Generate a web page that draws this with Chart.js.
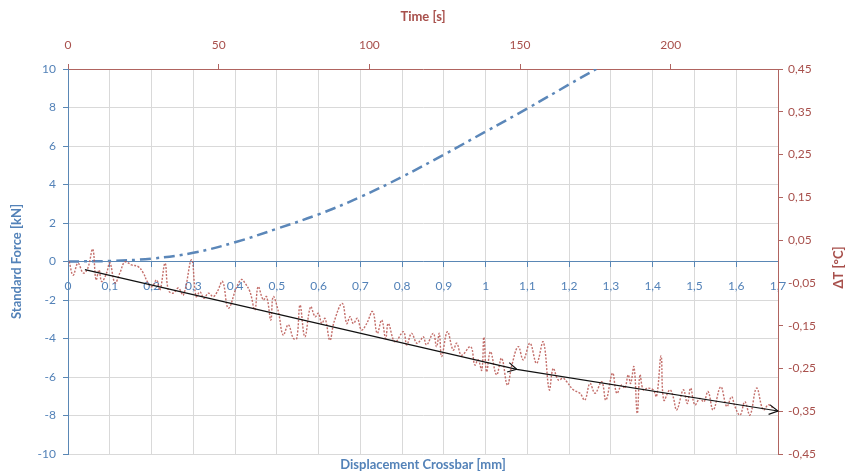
<!DOCTYPE html>
<html><head><meta charset="utf-8">
<script src="https://cdn.jsdelivr.net/npm/chart.js@4.4.1/dist/chart.umd.min.js"></script>
<style>html,body{margin:0;padding:0;background:#fff;}</style>
</head><body>
<canvas id="c" width="848" height="476"></canvas>
<script>
// ---- data ----
const displacementMm = [0, 0.1, 0.2, 0.3, 0.4, 0.5, 0.6, 0.7, 0.8, 0.9, 1.0, 1.1, 1.2, 1.265];
const forceKn        = [0, 0.03, 0.15, 0.45, 1.0, 1.7, 2.45, 3.35, 4.4, 5.55, 6.75, 7.95, 9.2, 10.0];

const timeS = [0.4,1.7,3.3,5.1,6.6,8.2,9.3,10.3,11.2,12.8,
13.9,15.6,17.3,18.9,21.1,23.3,25.0,26.3,27.8,29.4,
30.5,32.2,33.3,34.9,36.6,38.3,41.0,42.5,43.8,45.1,
46.6,48.2,49.5,51.3,53.2,56.0,57.6,58.7,60.4,62.0,
63.1,64.8,65.9,67.3,68.1,69.8,71.4,73.1,74.8,75.9,
77.0,78.6,80.5,82.0,83.1,84.2,85.3,86.9,88.3,91.0,
92.5,93.6,94.7,96.0,97.4,99.1,101.1,102.6,104.1,105.4,
106.3,108.5,111.3,112.4,114.0,115.7,116.8,117.9,119.0,121.2,
122.3,123.2,124.0,125.9,127.8,129.0,130.6,133.6,135.0,136.1,
137.3,138.0,138.9,140.2,142.2,143.9,145.8,147.3,149.4,151.1,
153.3,155.5,157.7,159.7,161.0,162.7,164.3,165.5,167.7,169.9,
171.5,173.2,174.9,177.1,178.5,180.7,182.1,183.7,184.8,185.9,
186.7,187.8,188.9,189.8,190.9,192.5,194.2,195.3,196.8,197.7,
199.7,200.8,202.0,204.2,205.5,206.6,208.0,209.7,211.0,212.4,
214.1,216.6,218.6,220.2,221.3,223.0,224.6,226.3,228.5,230.7,
232.4,234.0];
const deltaT = [0.000,-0.032,-0.004,-0.027,-0.015,0.029,-0.043,-0.020,-0.047,-0.027,
-0.003,-0.050,-0.025,-0.001,-0.008,-0.012,-0.027,-0.047,-0.059,-0.043,
-0.067,-0.004,-0.067,-0.074,-0.062,-0.078,0.004,-0.082,-0.071,-0.086,
-0.074,-0.082,-0.071,-0.047,-0.109,-0.059,-0.042,-0.050,-0.071,-0.113,
-0.059,-0.090,-0.082,-0.137,-0.082,-0.117,-0.172,-0.148,-0.180,-0.180,
-0.102,-0.176,-0.106,-0.129,-0.121,-0.145,-0.133,-0.184,-0.141,-0.098,
-0.145,-0.129,-0.145,-0.133,-0.160,-0.145,-0.117,-0.168,-0.137,-0.180,
-0.145,-0.188,-0.164,-0.195,-0.168,-0.191,-0.186,-0.176,-0.195,-0.168,
-0.199,-0.168,-0.222,-0.164,-0.207,-0.191,-0.219,-0.199,-0.242,-0.230,
-0.254,-0.177,-0.258,-0.211,-0.265,-0.226,-0.289,-0.242,-0.199,-0.230,
-0.191,-0.238,-0.188,-0.300,-0.250,-0.277,-0.273,-0.281,-0.300,-0.308,
-0.324,-0.285,-0.308,-0.281,-0.324,-0.261,-0.308,-0.289,-0.296,-0.265,
-0.285,-0.246,-0.355,-0.265,-0.300,-0.296,-0.300,-0.316,-0.221,-0.324,
-0.300,-0.316,-0.347,-0.300,-0.332,-0.296,-0.335,-0.320,-0.328,-0.304,
-0.347,-0.293,-0.339,-0.316,-0.339,-0.359,-0.328,-0.359,-0.296,-0.347,
-0.335,-0.343];

const trendTimeS  = [5.6, 148.9, 235.6];
const trendDeltaT = [-0.019, -0.252, -0.3495];

const displacementTicks = [0,0.1,0.2,0.3,0.4,0.5,0.6,0.7,0.8,0.9,1,1.1,1.2,1.3,1.4,1.5,1.6,1.7];
const forceTicks  = [-10,-8,-6,-4,-2,0,2,4,6,8,10];
const timeTicks   = [0,50,100,150,200];
const deltaTTicks = [-0.45,-0.35,-0.25,-0.15,-0.05,0.05,0.15,0.25,0.35,0.45];

const xTitleText = 'Displacement Crossbar [mm]';
const topTitleText = 'Time [s]';
const leftTitleText = 'Standard Force [kN]';
const rightTitleText = 'ΔT [°C]';

// ---- styles ----
const FONT = 'Lato';
const blueText = '#5382b8';
const blueAxis = '#5a87b5';
const redText = '#a8504c';
const redAxis = '#b06460';
const gridCol = '#d9d9d9';

const comma = (v, d) => (d === undefined ? String(parseFloat(v.toFixed(3))) : v.toFixed(d)).replace('.', ',');
const setTicks = arr => s => { s.ticks = arr.map(v => ({value: v})); };

const rightTitlePlugin = {
  id: 'rightTitle',
  afterDraw(chart) {
    const s = chart.scales.yT, ctx = chart.ctx, a = chart.chartArea;
    ctx.save();
    ctx.translate(s.right - 9, (a.top + a.bottom) / 2 + 6);
    ctx.rotate(-Math.PI / 2);
    ctx.font = 'bold 13px ' + FONT;
    ctx.fillStyle = redText;
    ctx.textAlign = 'center';
    ctx.textBaseline = 'middle';
    ctx.fillText(rightTitleText, 0, 0);
    ctx.restore();
  }
};

const arrowPlugin = {
  id: 'arrows',
  afterDatasetsDraw(chart) {
    const pts = chart.getDatasetMeta(2).data;
    const ctx = chart.ctx;
    ctx.save();
    ctx.strokeStyle = '#111';
    ctx.lineWidth = 1.2;
    for (let i = 1; i < pts.length; i++) {
      const a = pts[i - 1], b = pts[i];
      const ang = Math.atan2(b.y - a.y, b.x - a.x);
      const L = 10, w = 0.5;
      ctx.beginPath();
      ctx.moveTo(b.x - L * Math.cos(ang - w), b.y - L * Math.sin(ang - w));
      ctx.lineTo(b.x, b.y);
      ctx.lineTo(b.x - L * Math.cos(ang + w), b.y - L * Math.sin(ang + w));
      ctx.stroke();
    }
    ctx.restore();
  }
};

new Chart(document.getElementById('c'), {
  type: 'line',
  data: {
    datasets: [
      {
        label: 'Force',
        data: displacementMm.map((d, i) => ({x: d, y: forceKn[i]})),
        xAxisID: 'x', yAxisID: 'y',
        borderColor: '#5b87b9', borderWidth: 2.5, borderDash: [11, 5, 3, 5],
        pointRadius: 0, tension: 0.4, order: 2, clip: 0
      },
      {
        label: 'dT',
        data: timeS.map((t, i) => ({x: t, y: deltaT[i]})),
        xAxisID: 'xT', yAxisID: 'yT',
        borderColor: 'rgba(185,85,80,0.85)', borderWidth: 1.4, borderDash: [2, 1.5],
        pointRadius: 0, tension: 0.4, order: 1
      },
      {
        label: 'trend',
        data: trendTimeS.map((t, i) => ({x: t, y: trendDeltaT[i]})),
        xAxisID: 'xT', yAxisID: 'yT',
        borderColor: '#111', borderWidth: 1.2,
        pointRadius: 0, tension: 0, order: 0
      }
    ]
  },
  options: {
    responsive: false, animation: false, devicePixelRatio: 1,
    layout: {padding: 0},
    plugins: {legend: {display: false}, tooltip: {enabled: false}},
    scales: {
      x: {
        type: 'linear', position: {y: 0}, min: 0, max: 1.7,
        afterBuildTicks: setTicks(displacementTicks),
        ticks: {autoSkip: false, maxRotation: 0, padding: 12, color: blueText, font: {family: FONT, size: 12},
                callback: v => comma(v)},
        grid: {color: gridCol, tickLength: 5, tickColor: blueAxis},
        border: {color: blueAxis, width: 1}
      },
      xTitle: {
        type: 'linear', position: 'bottom', min: 0, max: 1,
        ticks: {display: false}, grid: {display: false, drawTicks: false}, border: {display: false},
        title: {display: true, text: xTitleText, color: blueText, font: {family: FONT, size: 13, weight: 'bold'}, padding: {top: 0, bottom: 3}},
        afterFit: s => { s.height = 22; }
      },
      xT: {
        type: 'linear', position: 'top', min: 0, max: 235.6,
        afterBuildTicks: setTicks(timeTicks),
        ticks: {autoSkip: false, maxRotation: 0, padding: 12, color: redText, font: {family: FONT, size: 12}},
        grid: {drawOnChartArea: false, tickLength: 5, tickColor: redAxis},
        border: {color: redAxis, width: 1},
        title: {display: true, text: topTitleText, color: redText, font: {family: FONT, size: 13, weight: 'bold'}, padding: {top: 9, bottom: 0}},
        afterFit: s => { s.height = 69; }
      },
      y: {
        type: 'linear', position: 'left', min: -10, max: 10,
        afterBuildTicks: setTicks(forceTicks),
        ticks: {autoSkip: false, padding: 7, color: blueText, font: {family: FONT, size: 12}},
        grid: {color: gridCol, tickLength: 5, tickColor: blueAxis},
        border: {color: blueAxis, width: 1},
        title: {display: true, text: leftTitleText, color: blueText, font: {family: FONT, size: 13, weight: 'bold'}, padding: {top: 9, bottom: 0}},
        afterFit: s => { s.width = 68; }
      },
      yT: {
        type: 'linear', position: 'right', min: -0.45, max: 0.45,
        afterBuildTicks: setTicks(deltaTTicks),
        ticks: {autoSkip: false, padding: 5, color: redText, font: {family: FONT, size: 12}, callback: v => comma(v, 2)},
        grid: {drawOnChartArea: false, tickLength: 5, tickColor: redAxis},
        border: {color: redAxis, width: 1},
        afterFit: s => { s.width = 70; }
      }
    }
  },
  plugins: [rightTitlePlugin, arrowPlugin]
});
</script>
</body></html>
